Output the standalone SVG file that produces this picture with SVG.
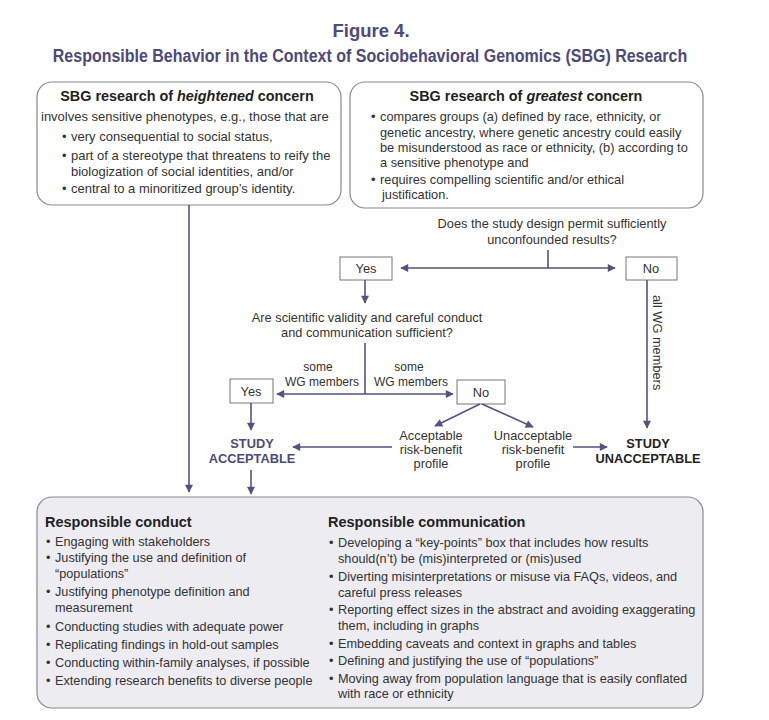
<svg xmlns="http://www.w3.org/2000/svg" width="769" height="720" viewBox="0 0 769 720">
<defs>
<marker id="ah" viewBox="0 0 10 10" refX="9" refY="5" markerWidth="9" markerHeight="8" markerUnits="userSpaceOnUse" orient="auto">
<path d="M0,0 L10,5 L0,10 Z" fill="#55527f"/>
</marker>
</defs>
<style>
text{font-family:"Liberation Sans",Arial,sans-serif;fill:#333;}
.title{font-size:18.5px;font-weight:bold;fill:#4d4a7c;}
.hd{font-size:14.4px;font-weight:bold;fill:#222;}
.t{font-size:13px;}
.tr{font-size:12.8px;}
.m{font-size:12.8px;}
.s{font-size:12px;}
.v{font-size:12.8px;}
.b{font-size:12.7px;}
.bh{font-size:14.5px;font-weight:bold;fill:#222;}
.res{font-size:12.8px;font-weight:bold;}
.box{fill:#fff;stroke:#8a8a8a;stroke-width:1.2;}
.dbox{fill:#fff;stroke:#777;stroke-width:1;}
.ln{stroke:#55527f;stroke-width:1.6;fill:none;}
.la{stroke:#55527f;stroke-width:1.6;fill:none;marker-end:url(#ah);}
</style>
<rect width="769" height="720" fill="#fff"/>
<g id="title">
<text class="title" x="371" y="37" text-anchor="middle">Figure 4.</text>
<text class="title" transform="translate(370,62) scale(0.865,1)" x="0" y="0" text-anchor="middle">Responsible Behavior in the Context of Sociobehavioral Genomics (SBG) Research</text>
</g>
<g id="heightened">
<rect class="box" x="37" y="82" width="304" height="123" rx="15"/>
<text class="hd" x="187" y="101" text-anchor="middle">SBG research of <tspan font-style="italic">heightened</tspan> concern</text>
<text class="t" x="41" y="121">involves sensitive phenotypes, e.g., those that are</text>
<text class="t" x="62" y="141">•</text><text class="t" x="71" y="141">very consequential to social status,</text>
<text class="t" x="62" y="160">•</text><text class="t" x="71" y="160">part of a stereotype that threatens to reify the</text>
<text class="t" x="71" y="176">biologization of social identities, and/or</text>
<text class="t" x="62" y="193">•</text><text class="t" x="71" y="193">central to a minoritized group’s identity.</text>
</g>
<g id="greatest">
<rect class="box" x="350" y="82" width="353" height="126" rx="15"/>
<text class="hd" x="526" y="101" text-anchor="middle">SBG research of <tspan font-style="italic">greatest</tspan> concern</text>
<text class="tr" x="371" y="121">•</text><text class="tr" x="380" y="121">compares groups (a) defined by race, ethnicity, or</text>
<text class="tr" x="380" y="137">genetic ancestry, where genetic ancestry could easily</text>
<text class="tr" x="380" y="152">be misunderstood as race or ethnicity, (b) according to</text>
<text class="tr" x="380" y="167">a sensitive phenotype and</text>
<text class="tr" x="371" y="184">•</text><text class="tr" x="380" y="184">requires compelling scientific and/or ethical</text>
<text class="tr" x="382" y="199">justification.</text>
</g>
<g id="q1">
<text class="m" x="552" y="228" text-anchor="middle">Does the study design permit sufficiently</text>
<text class="m" x="552" y="244" text-anchor="middle">unconfounded results?</text>
</g>
<g id="yes1">
<rect class="dbox" x="340" y="257" width="52" height="23"/>
<text class="m" x="366" y="273" text-anchor="middle">Yes</text>
</g>
<g id="no1">
<rect class="dbox" x="626" y="257" width="51" height="23"/>
<text class="m" x="651" y="273" text-anchor="middle">No</text>
</g>
<g id="q2">
<text class="m" x="367" y="322" text-anchor="middle">Are scientific validity and careful conduct</text>
<text class="m" x="367" y="337" text-anchor="middle">and communication sufficient?</text>
</g>
<g id="yes2">
<rect class="dbox" x="230" y="379" width="43" height="24"/>
<text class="m" x="251" y="396" text-anchor="middle">Yes</text>
</g>
<g id="no2">
<rect class="dbox" x="457" y="380" width="48" height="24"/>
<text class="m" x="481" y="397" text-anchor="middle">No</text>
</g>
<g id="acceptable">
<text class="res" x="252" y="448" text-anchor="middle" style="fill:#4d4a7c">STUDY</text>
<text class="res" x="252" y="463" text-anchor="middle" style="fill:#4d4a7c">ACCEPTABLE</text>
</g>
<g id="unacceptable">
<text class="res" x="648" y="448" text-anchor="middle" style="fill:#222">STUDY</text>
<text class="res" x="648" y="463" text-anchor="middle" style="fill:#222">UNACCEPTABLE</text>
</g>
<g id="rb-acc">
<text class="m" x="431" y="440" text-anchor="middle">Acceptable</text>
<text class="m" x="431" y="454" text-anchor="middle">risk-benefit</text>
<text class="m" x="431" y="468" text-anchor="middle">profile</text>
</g>
<g id="rb-unacc">
<text class="m" x="533" y="440" text-anchor="middle">Unacceptable</text>
<text class="m" x="533" y="454" text-anchor="middle">risk-benefit</text>
<text class="m" x="533" y="468" text-anchor="middle">profile</text>
</g>
<g id="connectors">
<line class="la" x1="189" y1="205" x2="189" y2="492"/>
<line class="ln" x1="548" y1="250" x2="548" y2="268"/>
<line class="la" x1="548" y1="268" x2="401" y2="268"/>
<line class="la" x1="548" y1="268" x2="615" y2="268"/>
<line class="la" x1="365" y1="280" x2="365" y2="303"/>
<line class="ln" x1="365" y1="343" x2="365" y2="394"/>
<line class="la" x1="365" y1="394" x2="277" y2="394"/>
<line class="la" x1="365" y1="394" x2="453" y2="394"/>
<line class="la" x1="251" y1="403" x2="251" y2="430"/>
<line class="la" x1="251" y1="470" x2="251" y2="494"/>
<line class="la" x1="480" y1="404" x2="435" y2="426"/>
<line class="la" x1="482" y1="404" x2="533" y2="427"/>
<line class="la" x1="392" y1="447" x2="293" y2="447"/>
<line class="la" x1="573" y1="447" x2="607" y2="447"/>
<line class="la" x1="647" y1="280" x2="647" y2="428"/>
<text class="v" transform="translate(653,295) rotate(90)">all WG members</text>
<text class="s" x="318" y="371" text-anchor="middle">some</text>
<text class="s" x="322" y="386" text-anchor="middle">WG members</text>
<text class="s" x="409" y="371" text-anchor="middle">some</text>
<text class="s" x="411" y="386" text-anchor="middle">WG members</text>
</g>
<g id="practices">
<rect x="37" y="497" width="666" height="211" rx="15" fill="#ececf1" stroke="#8a8a8a" stroke-width="1.2"/>
<text class="bh" x="45" y="527">Responsible conduct</text>
<text class="b" x="46" y="546">•</text><text class="b" x="55" y="546">Engaging with stakeholders</text>
<text class="b" x="46" y="562">•</text><text class="b" x="55" y="562">Justifying the use and definition of</text>
<text class="b" x="55" y="578">“populations”</text>
<text class="b" x="46" y="596">•</text><text class="b" x="55" y="596">Justifying phenotype definition and</text>
<text class="b" x="55" y="612">measurement</text>
<text class="b" x="46" y="631">•</text><text class="b" x="55" y="631">Conducting studies with adequate power</text>
<text class="b" x="46" y="649">•</text><text class="b" x="55" y="649">Replicating findings in hold-out samples</text>
<text class="b" x="46" y="667">•</text><text class="b" x="55" y="667">Conducting within-family analyses, if possible</text>
<text class="b" x="46" y="685">•</text><text class="b" x="55" y="685">Extending research benefits to diverse people</text>
<text class="bh" x="328" y="527">Responsible communication</text>
<text class="b" x="329" y="547">•</text><text class="b" x="338" y="547">Developing a “key-points” box that includes how results</text>
<text class="b" x="338" y="563">should(n’t) be (mis)interpreted or (mis)used</text>
<text class="b" x="329" y="581">•</text><text class="b" x="338" y="581">Diverting misinterpretations or misuse via FAQs, videos, and</text>
<text class="b" x="338" y="597">careful press releases</text>
<text class="b" x="329" y="614">•</text><text class="b" x="338" y="614">Reporting effect sizes in the abstract and avoiding exaggerating</text>
<text class="b" x="338" y="630">them, including in graphs</text>
<text class="b" x="329" y="648">•</text><text class="b" x="338" y="648">Embedding caveats and context in graphs and tables</text>
<text class="b" x="329" y="665">•</text><text class="b" x="338" y="665">Defining and justifying the use of “populations”</text>
<text class="b" x="329" y="683">•</text><text class="b" x="338" y="683">Moving away from population language that is easily conflated</text>
<text class="b" x="338" y="698">with race or ethnicity</text>
</g>
</svg>
